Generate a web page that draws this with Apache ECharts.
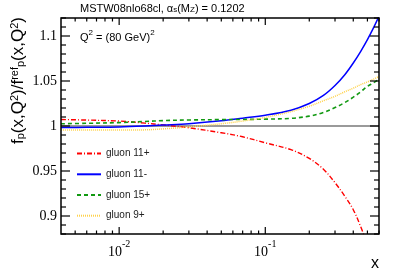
<!DOCTYPE html>
<html>
<head>
<meta charset="utf-8">
<script src="https://cdn.jsdelivr.net/npm/echarts@6/dist/echarts.min.js"></script>
<style>html,body{margin:0;padding:0;background:#fff;}#c{width:399px;height:270px;}</style>
</head>
<body>
<div id="c"></div>
<script>
// ---- data ----
const X_VALUES = [0.004, 0.006, 0.01, 0.015, 0.02, 0.03, 0.05, 0.07, 0.1, 0.15, 0.2, 0.25, 0.3, 0.35, 0.4, 0.45, 0.5, 0.55, 0.6];
const GLUON_11P = [1.0072, 1.0066, 1.0055, 1.0032, 1.0012, 0.998, 0.9925, 0.988, 0.9813, 0.9737, 0.964, 0.952, 0.937, 0.922, 0.907, 0.888, 0.868, 0.848, 0.826];
const GLUON_11M = [0.9982, 0.9985, 0.999, 1.0, 1.001, 1.0025, 1.0057, 1.0087, 1.012, 1.0176, 1.025, 1.034, 1.045, 1.057, 1.07, 1.083, 1.096, 1.109, 1.122];
const GLUON_15P = [1.0025, 1.003, 1.0038, 1.005, 1.006, 1.0067, 1.0071, 1.0073, 1.0076, 1.0085, 1.011, 1.015, 1.0205, 1.026, 1.032, 1.038, 1.044, 1.048, 1.052];
const GLUON_9P = [0.9955, 0.9955, 0.9955, 0.9957, 0.9968, 0.999, 1.0025, 1.0055, 1.0095, 1.016, 1.022, 1.028, 1.033, 1.038, 1.042, 1.046, 1.049, 1.052, 1.055];
const SERIES_NAMES = ['gluon 11+', 'gluon 11-', 'gluon 15+', 'gluon 9+'];
const X_MIN = 0.004, X_MAX = 0.6, Y_MIN = 0.88, Y_MAX = 1.12;
const X_MAJOR_TICKS = [0.01, 0.1];
const X_MINOR_TICKS = [0.005, 0.006, 0.007, 0.008, 0.009, 0.02, 0.03, 0.04, 0.05, 0.06, 0.07, 0.08, 0.09, 0.2, 0.3, 0.4, 0.5, 0.6];
const Y_MAJOR_TICKS = [0.9, 0.95, 1.0, 1.05, 1.1];
const Y_MINOR_TICKS = [0.88, 0.89, 0.91, 0.92, 0.93, 0.94, 0.96, 0.97, 0.98, 0.99, 1.01, 1.02, 1.03, 1.04, 1.06, 1.07, 1.08, 1.09, 1.11, 1.12];
const REF_LINE = 1.0;

const pair = arr => X_VALUES.map((x, i) => [x, arr[i]]);
const SANS = 'Liberation Sans';
const SERIF = 'Liberation Serif';

const chart = echarts.init(document.getElementById('c'), null, {renderer: 'canvas'});

function tickSeries(data, isY) {
  return {
    type: 'custom', silent: true, z: 10, clip: false,
    data: data,
    renderItem: function (params, api) {
      const v = api.value(0), len = api.value(1);
      const children = [];
      if (isY) {
        const l = api.coord([X_MIN, v]), r = api.coord([X_MAX, v]);
        children.push({type: 'line', shape: {x1: l[0], y1: l[1], x2: l[0] + len, y2: l[1]}, style: {stroke: '#000', lineWidth: 1.2}});
        children.push({type: 'line', shape: {x1: r[0], y1: r[1], x2: r[0] - len, y2: r[1]}, style: {stroke: '#000', lineWidth: 1.2}});
      } else {
        const b = api.coord([v, Y_MIN]), t = api.coord([v, Y_MAX]);
        children.push({type: 'line', shape: {x1: b[0], y1: b[1], x2: b[0], y2: b[1] - len}, style: {stroke: '#000', lineWidth: 1.2}});
        children.push({type: 'line', shape: {x1: t[0], y1: t[1], x2: t[0], y2: t[1] + len}, style: {stroke: '#000', lineWidth: 1.2}});
      }
      return {type: 'group', children: children};
    }
  };
}

const lineBase = {type: 'line', symbol: 'none', smooth: 0.35, clip: true, z: 5};

const option = {
  animation: false,
  backgroundColor: '#fff',
  grid: {left: 61, right: 20, top: 18, bottom: 36, show: true, borderColor: '#000', borderWidth: 1.5, backgroundColor: 'transparent', z: 20},
  xAxis: {
    type: 'log', logBase: 10, min: X_MIN, max: X_MAX,
    axisLine: {show: false}, axisTick: {show: false}, splitLine: {show: false},
    axisLabel: {
      showMinLabel: false, showMaxLabel: false, margin: 5,
      formatter: function (v) { const e = Math.round(Math.log10(v)); return '{b|10}{s|' + e + '}'; },
      rich: {
        b: {fontFamily: SERIF, fontSize: 14, color: '#000', lineHeight: 20, verticalAlign: 'bottom'},
        s: {fontFamily: SERIF, fontSize: 10, color: '#000', lineHeight: 10, verticalAlign: 'top'}
      }
    }
  },
  yAxis: {
    type: 'value', min: Y_MIN, max: Y_MAX, interval: 0.01,
    axisLine: {show: false}, axisTick: {show: false}, splitLine: {show: false},
    axisLabel: {
      margin: 4, fontFamily: SERIF, fontSize: 14, color: '#000',
      formatter: function (v) {
        const r = Math.round(v * 100) / 100;
        return Y_MAJOR_TICKS.some(t => Math.abs(t - r) < 1e-6) ? String(Number(r.toFixed(2))) : '';
      }
    }
  },
  legend: {
    orient: 'vertical', left: 76, top: 148, padding: 0, itemWidth: 24, itemHeight: 14, itemGap: 9.5,
    data: SERIES_NAMES,
    itemStyle: {opacity: 0},
    textStyle: {fontFamily: SANS, fontSize: 10, color: '#222'},
    selectedMode: false
  },
  series: [
    Object.assign({}, lineBase, {name: SERIES_NAMES[0], data: pair(GLUON_11P), color: '#ff0000',
      lineStyle: {color: '#ff0000', width: 1.4, type: [5, 2, 1, 2]},
      markLine: {silent: true, symbol: 'none', label: {show: false}, lineStyle: {color: '#9a9a9a', width: 2, type: 'solid'}, data: [{yAxis: REF_LINE}], z: 1}}),
    Object.assign({}, lineBase, {name: SERIES_NAMES[1], data: pair(GLUON_11M), color: '#0000ff',
      lineStyle: {color: '#0000ff', width: 1.5, type: 'solid'}}),
    Object.assign({}, lineBase, {name: SERIES_NAMES[2], data: pair(GLUON_15P), color: '#119911',
      lineStyle: {color: '#119911', width: 1.6, type: [4, 3]}}),
    Object.assign({}, lineBase, {name: SERIES_NAMES[3], data: pair(GLUON_9P), color: '#ffd24a',
      lineStyle: {color: '#ffd24a', width: 1.5, type: [1, 1]}}),
    tickSeries(Y_MAJOR_TICKS.map(v => [v, 9]), true),
    tickSeries(Y_MINOR_TICKS.map(v => [v, 5]), true),
    tickSeries(X_MAJOR_TICKS.map(v => [v, 7]), false),
    tickSeries(X_MINOR_TICKS.map(v => [v, 3.5]), false)
  ],
  graphic: [
    {type: 'text', left: 80, top: 1, z: 30, style: {
      text: '{t|MSTW08nlo68cl, α}{s|s}{t|(M}{s|Z}{t|) = 0.1202}',
      rich: {
        t: {fontFamily: SANS, fontSize: 11, color: '#222', lineHeight: 11, verticalAlign: 'top'},
        s: {fontFamily: SANS, fontSize: 8, color: '#222', lineHeight: 8, padding: [5, 0, 0, 0], verticalAlign: 'bottom'}
      }}},
    {type: 'text', left: 80, top: 29, z: 30, style: {
      text: '{t|Q}{u|2}{t| = (80 GeV)}{u|2}',
      rich: {
        t: {fontFamily: SANS, fontSize: 11, color: '#111', lineHeight: 14, verticalAlign: 'bottom'},
        u: {fontFamily: SANS, fontSize: 8, color: '#111', lineHeight: 8, verticalAlign: 'top'}
      }}},
    {type: 'text', x: 18, y: 17, rotation: Math.PI / 2, z: 30, style: {
      text: '{t|f}{d|p}{t|(x,Q}{u|2}{t|)/f}{u|ref}{d|p}{t|(x,Q}{u|2}{t|)}',
      align: 'right', verticalAlign: 'middle',
      rich: {
        t: {fontFamily: SANS, fontSize: 17, color: '#000', lineHeight: 17, verticalAlign: 'middle'},
        u: {fontFamily: SANS, fontSize: 11, color: '#000', lineHeight: 11, padding: [0, 0, 11, 0], verticalAlign: 'top'},
        d: {fontFamily: SANS, fontSize: 11, color: '#000', lineHeight: 11, padding: [9, 0, 0, 0], verticalAlign: 'bottom'}
      }}},
    {type: 'text', x: 379, y: 264, z: 30, style: {
      text: 'x', align: 'right', verticalAlign: 'middle',
      fontFamily: SANS, fontSize: 16, fill: '#000'}}
  ]
};
chart.setOption(option);
</script>
</body>
</html>
